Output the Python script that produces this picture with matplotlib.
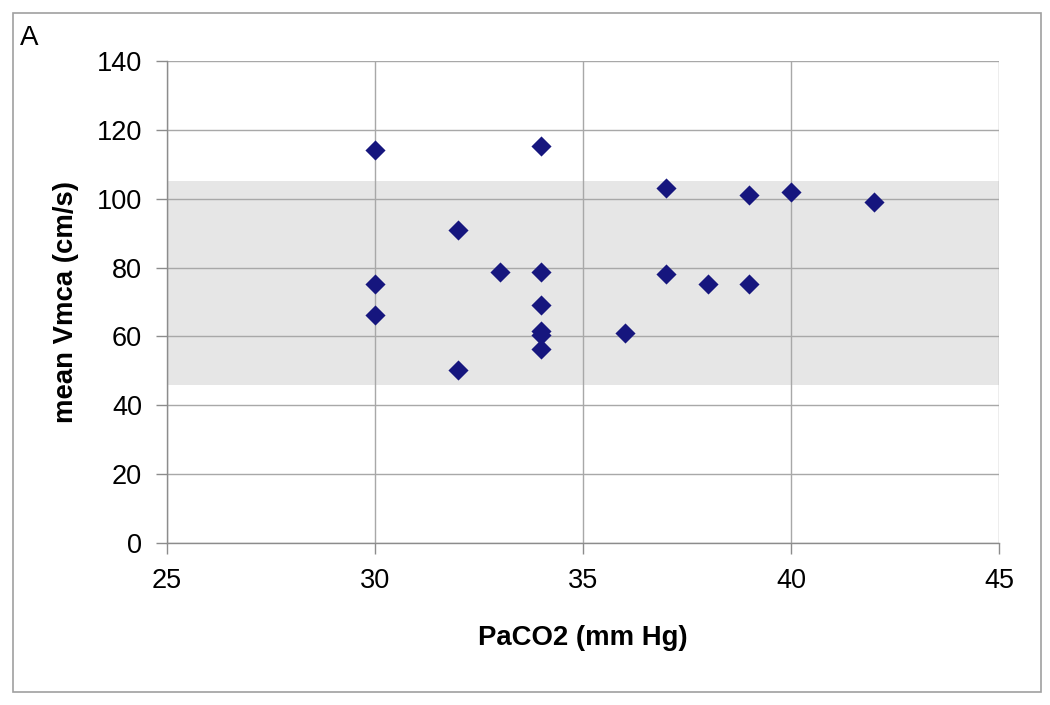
import matplotlib
matplotlib.use('Agg')
import matplotlib.pyplot as plt
from matplotlib.patches import Rectangle

plt.rcParams['font.family'] = ['Liberation Sans', 'DejaVu Sans']

# PaCO2 vs mean Vmca
paco2 = [30, 30, 30, 32, 32, 33, 34, 34, 34, 34, 34, 34, 36, 37, 37, 38, 39, 39, 40, 42]
vmca = [114, 75.3, 66.3, 91, 50.2, 78.8, 115.4, 78.8, 69.2, 61.5, 60.4, 56.3, 61, 103.1, 78, 75.3, 101.1, 75.3, 101.9, 99]
band_lo, band_hi = 46, 105  # shaded normal range

xticks = [25, 30, 35, 40, 45]
yticks = [0, 20, 40, 60, 80, 100, 120, 140]

fig = plt.figure(figsize=(10.5, 7.05), dpi=100)
ax = fig.add_axes([0.159, 0.2298, 0.7924, 0.6837])

ax.axhspan(band_lo, band_hi, color='#e6e6e6', zorder=0, lw=0)
ax.scatter(paco2, vmca, marker='D', s=105, color='#16167e', zorder=3, lw=0)

ax.set_xlim(25, 45)
ax.set_ylim(0, 140)
ax.set_xticks(xticks)
ax.set_yticks(yticks)
ax.grid(True, color='#a8a8a8', lw=1.0, zorder=1)
ax.set_axisbelow(True)

for s in ['top', 'right']:
    ax.spines[s].set_visible(False)
for s in ['left', 'bottom']:
    ax.spines[s].set_color('#8c8c8c')
    ax.spines[s].set_linewidth(1.0)
ax.tick_params(direction='out', length=8, width=1, color='#8c8c8c', labelsize=19.5, pad=10)

ax.set_xlabel('PaCO2 (mm Hg)', fontsize=19.8, fontweight='bold', labelpad=22)
ax.set_ylabel('mean Vmca (cm/s)', fontsize=19.8, fontweight='bold', labelpad=13)

fig.text(0.019, 0.965, 'A', fontsize=20, va='top', ha='left')
fig.patches.append(Rectangle((0.0124, 0.0184), 0.979, 0.963, transform=fig.transFigure,
                             fill=False, edgecolor='#a0a0a0', lw=1.2))

fig.savefig('out.png', dpi=100)
